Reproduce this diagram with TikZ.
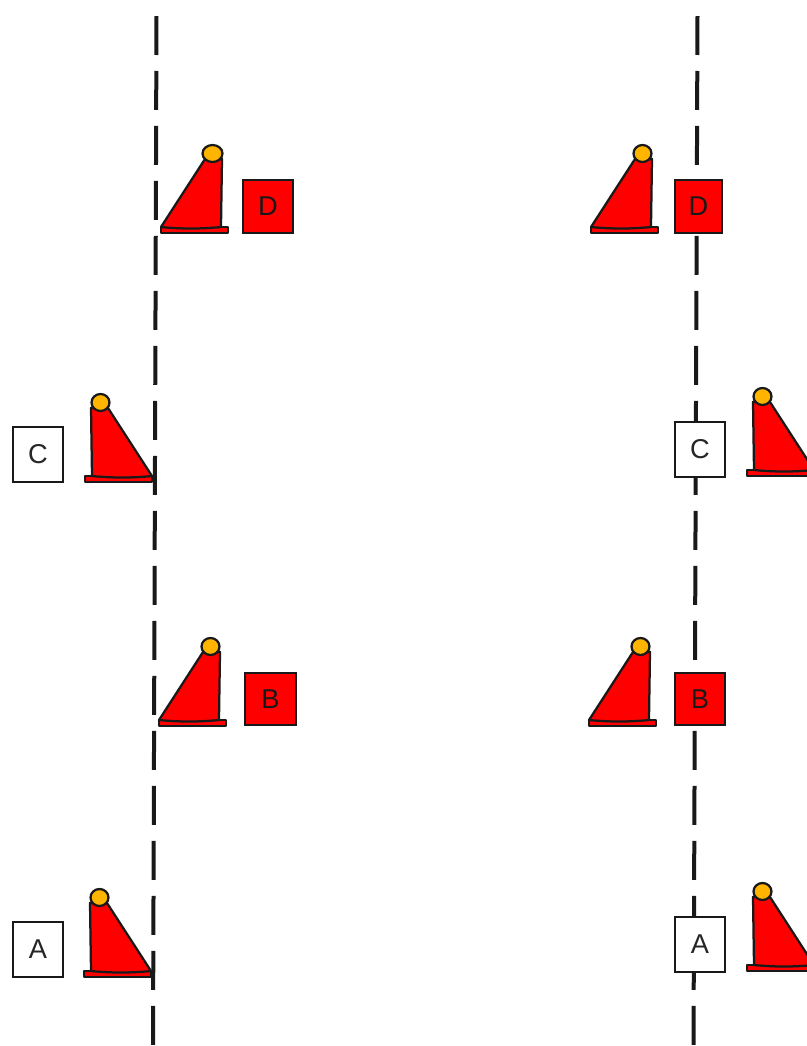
\documentclass[tikz,border=0pt]{standalone}
\usepackage{fontspec}
\setmainfont{Liberation Sans}
\definecolor{conered}{HTML}{FF0000}
\definecolor{lamp}{HTML}{FFB400}
\tikzset{
  laneline/.style={black!90, line width=0.08cm, dash pattern=on 0.78cm off 0.32cm},
  conebody/.style={fill=conered, draw=black!90, line width=0.045cm, line join=round},
  conelamp/.style={fill=lamp, draw=black!90, line width=0.045cm},
  signbox/.style={draw=black!90, line width=0.04cm, inner sep=0pt, minimum width=1.01cm,
    font=\fontsize{15.5}{18}\selectfont},
  redsign/.style={signbox, fill=conered, text=black!90, minimum height=1.05cm},
  whitesign/.style={signbox, fill=white, text=black!85, minimum height=1.1cm}
}
% x y = foot of the slope, #3 = 1 or -1 for the side it leans to, #4 = lamp radius
\newcommand{\trafficcone}[4]{
  \begin{scope}[shift={(#1,#2)}, xscale=#3]
    \filldraw[conebody] (0,0) rectangle (67,6);
    \filldraw[conebody] (0,0) -- (44,-68) -- (61,-68) -- (60,0) .. controls (40,2) and (20,2) .. cycle;
    \filldraw[conelamp] (51.5,-73.5) circle [x radius=#4, y radius=8.5];
  \end{scope}
}

\begin{document}
\begin{tikzpicture}[x=0.02cm, y=-0.02cm]
  \useasboundingbox (0,0) rectangle (807,1046);

  % left side
  \trafficcone{161}{227}{1}{10}
  \trafficcone{152}{476}{-1}{9}
  \trafficcone{159}{720}{1}{9}
  \trafficcone{151}{971}{-1}{9}

  % right side
  \trafficcone{591}{227}{1}{9}
  \trafficcone{814}{470}{-1}{9}
  \trafficcone{589}{720}{1}{9}
  \trafficcone{814}{965}{-1}{9}

  \coordinate (leftTop) at (156.5,16);
  \coordinate (leftEnd) at (153,1046);
  \coordinate (rightTop) at (697.5,16);
  \coordinate (rightEnd) at (693.5,1046);
  \draw[laneline] (leftTop) -- (leftEnd);
  \draw[laneline] (rightTop) -- (rightEnd);

  \node[redsign] (leftD) at (268,206.5) {D};
  \node[whitesign] (leftC) at (38,454) {C};
  \node[redsign] (leftB) at (270.5,699) {B};
  \node[whitesign] (leftA) at (38,949) {A};

  \node[redsign, minimum width=0.95cm] (rightD) at (698.5,206.5) {D};
  \node[whitesign] (rightC) at (700,449) {C};
  \node[redsign] (rightB) at (700,699) {B};
  \node[whitesign] (rightA) at (700,944) {A};
\end{tikzpicture}
\end{document}
